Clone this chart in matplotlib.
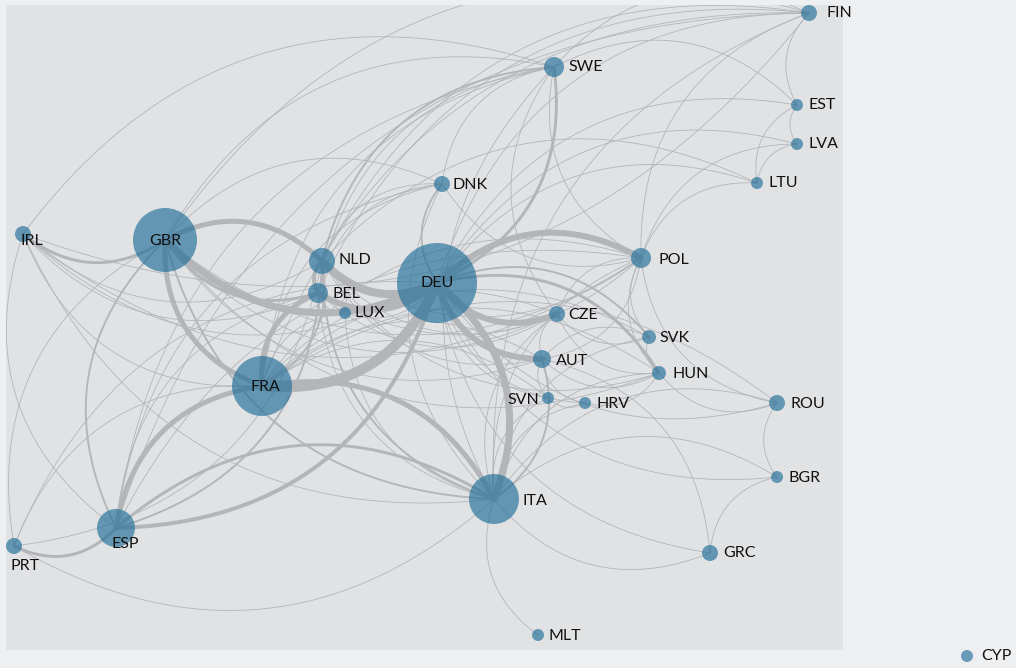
import numpy as np
import matplotlib.pyplot as plt
from matplotlib.collections import LineCollection
from matplotlib.patches import Rectangle

plt.rcParams['font.family'] = ['Lato', 'DejaVu Sans']

# node layout (pixel coords of the layout), node radius, label offset
countries = ["FIN", "SWE", "EST", "LVA", "LTU", "DNK", "IRL", "GBR", "NLD", "DEU",
             "POL", "BEL", "LUX", "CZE", "SVK", "AUT", "HUN", "FRA", "SVN", "HRV",
             "ROU", "BGR", "ITA", "ESP", "PRT", "GRC", "MLT", "CYP"]
node_x = [809, 554, 797, 797, 757, 442, 23, 165, 322, 437,
          641, 318, 345, 557, 649, 542, 659, 262, 548, 585,
          777, 777, 494, 116, 14, 710, 538, 967]
node_y = [13, 67, 105, 144, 183, 184, 234, 240, 261, 283,
          258, 293, 313, 314, 337, 359, 373, 386, 398, 403,
          403, 477, 499, 528, 546, 553, 635, 656]
node_r = [8, 10, 6, 6, 6, 8, 8, 32, 13, 40,
          10, 10, 6, 8, 7, 9, 7, 30, 6, 6,
          8, 6, 25, 19, 8, 8, 6, 6]
label_dx = [17, 14, 11, 11, 12, 11, 9, 0, 16, 0,
            18, 14, 10, 11, 10, 14, 13, 3, -9, 11,
            13, 12, 29, 9, 11, 13, 11, 14]
label_dy = [0, 0, 0, 0, 0, 1, 7, 1, -1, 0,
            2, 1, 0, 1, 1, 2, 1, 1, 2, 1,
            1, 1, 2, 16, 20, 0, 1, 0]
label_ha = ["left", "left", "left", "left", "left", "left", "center", "center", "left", "center",
            "left", "left", "left", "left", "left", "left", "left", "center", "right", "left",
            "left", "left", "left", "center", "center", "left", "left", "left"]

# edges: source, target, weight
strong = [("FRA", "DEU", 10), ("NLD", "DEU", 8), ("ITA", "DEU", 7), ("GBR", "DEU", 7),
          ("POL", "DEU", 6), ("DEU", "AUT", 6), ("DEU", "CZE", 6), ("BEL", "DEU", 6),
          ("FRA", "ESP", 5), ("GBR", "FRA", 5), ("NLD", "GBR", 5), ("ITA", "FRA", 5),
          ("BEL", "FRA", 5), ("ESP", "DEU", 4), ("NLD", "BEL", 4), ("ITA", "ESP", 3),
          ("IRL", "GBR", 3), ("HUN", "DEU", 3), ("DEU", "SWE", 3), ("GBR", "BEL", 3),
          ("PRT", "ESP", 3), ("GBR", "ESP", 2), ("SWE", "NLD", 2), ("DNK", "DEU", 2),
          ("FRA", "NLD", 2), ("SVK", "DEU", 2), ("ITA", "AUT", 2), ("GBR", "ITA", 2),
          ("NLD", "ITA", 2), ("ESP", "NLD", 2)]
partners = {
    "FIN": ["SWE", "DEU", "NLD", "GBR", "EST", "POL", "FRA", "ITA", "BEL", "ESP"],
    "EST": ["SWE", "LVA", "DEU", "LTU"],
    "LVA": ["LTU", "DEU", "POL"],
    "LTU": ["POL", "DEU", "NLD"],
    "SWE": ["GBR", "DNK", "FRA", "BEL", "POL", "ITA", "ESP", "IRL", "CZE"],
    "DNK": ["SWE", "NLD", "GBR", "FRA", "POL", "ITA", "BEL", "ESP"],
    "IRL": ["DEU", "BEL", "FRA", "NLD", "ESP", "ITA", "POL", "FIN"],
    "GBR": ["POL", "DNK", "CZE", "PRT", "AUT", "HUN"],
    "NLD": ["POL", "CZE", "AUT", "HUN"],
    "BEL": ["ITA", "ESP", "LUX", "POL", "CZE"],
    "LUX": ["DEU", "FRA", "NLD", "ITA"],
    "DEU": ["ROU", "SVN", "LUX", "PRT", "HRV", "BGR", "GRC", "FIN"],
    "POL": ["CZE", "GBR", "FRA", "ITA", "HUN", "SVK", "ROU", "ESP"],
    "CZE": ["SVK", "AUT", "FRA", "ITA", "HUN"],
    "SVK": ["CZE", "HUN", "AUT", "FRA", "ITA"],
    "AUT": ["CZE", "HUN", "SVN", "FRA", "SVK", "POL", "HRV"],
    "HUN": ["ROU", "ITA", "CZE", "FRA"],
    "FRA": ["POL", "PRT", "AUT", "SWE", "CZE", "IRL"],
    "SVN": ["ITA", "HRV", "FRA"],
    "HRV": ["ITA", "HUN"],
    "ROU": ["ITA", "FRA", "BGR"],
    "BGR": ["ITA", "GRC"],
    "ITA": ["POL", "GRC", "ROU", "MLT", "BEL"],
    "ESP": ["POL", "IRL", "PRT"],
    "PRT": ["FRA", "DEU", "GBR", "ITA", "NLD"],
    "GRC": ["DEU", "AUT"],
}

src, dst, wts = [], [], []
seen = set()
for a, b, w in strong:
    src.append(a); dst.append(b); wts.append(w)
    seen.add(frozenset((a, b)))
for a, lst in partners.items():
    for b in lst:
        key = frozenset((a, b))
        if key in seen:
            continue
        seen.add(key)
        src.append(a); dst.append(b); wts.append(1)

idx = {c: i for i, c in enumerate(countries)}
px = np.array(node_x, dtype=float)
py = np.array(node_y, dtype=float)

segs, lws = [], []
t = np.linspace(0, 1, 60)[:, None]
order = np.argsort(wts)
for k in order:
    i, j = idx[src[k]], idx[dst[k]]
    p0 = np.array([px[i], py[i]])
    p2 = np.array([px[j], py[j]])
    d = p2 - p0
    ctrl = (p0 + p2) / 2 + 0.36 * np.array([-d[1], d[0]])
    pts = (1 - t) ** 2 * p0 + 2 * (1 - t) * t * ctrl + t ** 2 * p2
    segs.append(pts)
    lws.append(0.6 + (wts[k] - 1) * 0.75)

fig = plt.figure(figsize=(10.16, 6.68), dpi=100, facecolor="#eeeff1")
ax = fig.add_axes([0, 0, 1, 1])
ax.set_xlim(0, 1016)
ax.set_ylim(668, 0)
ax.axis("off")
panel = Rectangle((6, 5), 837, 645, facecolor="#e1e2e4", edgecolor="none", zorder=0)
ax.add_patch(panel)

lc = LineCollection(segs, linewidths=lws, colors="#b3b5b9", capstyle="round", zorder=1)
ax.add_collection(lc)
lc.set_clip_path(panel)

sizes = [(2 * r * 0.72) ** 2 for r in node_r]
ax.scatter(px, py, s=sizes, color="#1f6e98", alpha=0.65, linewidths=0, zorder=2)

for c, x, y, dx, dy, ha in zip(countries, node_x, node_y, label_dx, label_dy, label_ha):
    ax.text(x + dx, y + dy, c, ha=ha, va="center", fontsize=11.5, color="#111111", zorder=3)

fig.savefig("out.png", dpi=100, facecolor=fig.get_facecolor())
